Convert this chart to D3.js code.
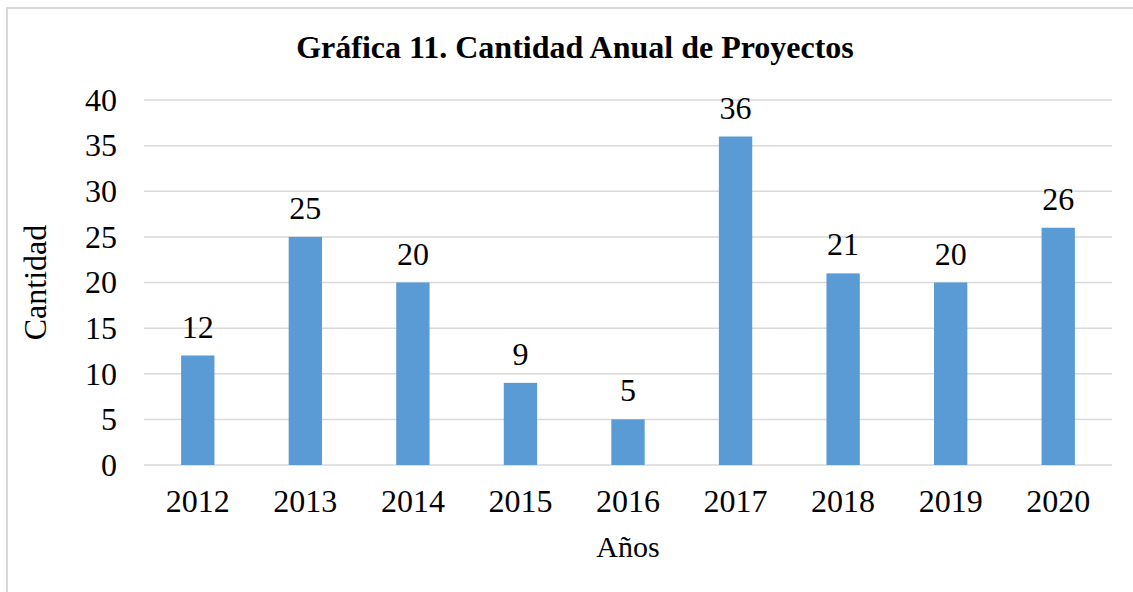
<!DOCTYPE html>
<html>
<head>
<meta charset="utf-8">
<script src="https://cdn.jsdelivr.net/npm/d3@7"></script>
<style>
  body { margin: 0; background: #fff; }
  text { font-family: "Liberation Serif", "Times New Roman", serif; fill: #000; }
</style>
</head>
<body>
<div class="chart"></div>
<script>
var years = ["2012", "2013", "2014", "2015", "2016", "2017", "2018", "2019", "2020"];
var counts = [12, 25, 20, 9, 5, 36, 21, 20, 26];
var yTicks = [0, 5, 10, 15, 20, 25, 30, 35, 40];

var W = 1133, H = 592;
var margin = { top: 100, right: 21, bottom: 127, left: 144 };
var width = W - margin.left - margin.right;
var height = H - margin.top - margin.bottom;

var svg = d3.select(".chart").append("svg")
  .attr("width", W)
  .attr("height", H);

// frame of the chart (runs off the right and bottom edges)
svg.append("rect")
  .attr("x", 7).attr("y", 8)
  .attr("width", W + 20).attr("height", H + 20)
  .attr("fill", "none")
  .attr("stroke", "#d9d9d9")
  .attr("stroke-width", 2);

svg.append("text")
  .attr("x", 575)
  .attr("y", 58)
  .attr("text-anchor", "middle")
  .attr("font-size", 32)
  .attr("font-weight", "bold")
  .text("Gráfica 11. Cantidad Anual de Proyectos");

var g = svg.append("g")
  .attr("transform", `translate(${margin.left},${margin.top})`);

var x = d3.scaleBand().domain(years).range([0, width]).paddingInner(0.69).paddingOuter(0.345);
var y = d3.scaleLinear().domain([0, 40]).range([height, 0]);

// gridlines
g.append("g")
  .selectAll("line")
  .data(yTicks)
  .enter().append("line")
  .attr("x1", 0).attr("x2", width)
  .attr("y1", d => y(d)).attr("y2", d => y(d))
  .attr("stroke", "#d9d9d9")
  .attr("stroke-width", 1.5);

var yAxis = g.append("g")
  .call(d3.axisLeft(y).tickValues(yTicks).tickSize(0).tickPadding(27));
yAxis.select(".domain").remove();
yAxis.selectAll("text")
  .attr("font-size", 32)
  .attr("font-family", "Liberation Serif, serif");

var xAxis = g.append("g")
  .attr("transform", `translate(0,${height})`)
  .call(d3.axisBottom(x).tickSize(0).tickPadding(24));
xAxis.select(".domain").remove();
xAxis.selectAll("text")
  .attr("font-size", 32)
  .attr("font-family", "Liberation Serif, serif");

g.selectAll(".bar")
  .data(counts)
  .enter().append("rect")
  .attr("class", "bar")
  .attr("x", (d, i) => x(years[i]))
  .attr("y", d => y(d))
  .attr("width", x.bandwidth())
  .attr("height", d => height - y(d))
  .attr("fill", "#5b9bd5");

g.selectAll(".lbl")
  .data(counts)
  .enter().append("text")
  .attr("class", "lbl")
  .attr("x", (d, i) => x(years[i]) + x.bandwidth() / 2)
  .attr("y", d => y(d) - 18)
  .attr("text-anchor", "middle")
  .attr("font-size", 32)
  .text(d => d);

// axis titles
svg.append("text")
  .attr("transform", `translate(46,${margin.top + height / 2}) rotate(-90)`)
  .attr("text-anchor", "middle")
  .attr("font-size", 32)
  .text("Cantidad");

svg.append("text")
  .attr("x", margin.left + width / 2)
  .attr("y", 557)
  .attr("text-anchor", "middle")
  .attr("font-size", 30)
  .text("Años");
</script>
</body>
</html>
